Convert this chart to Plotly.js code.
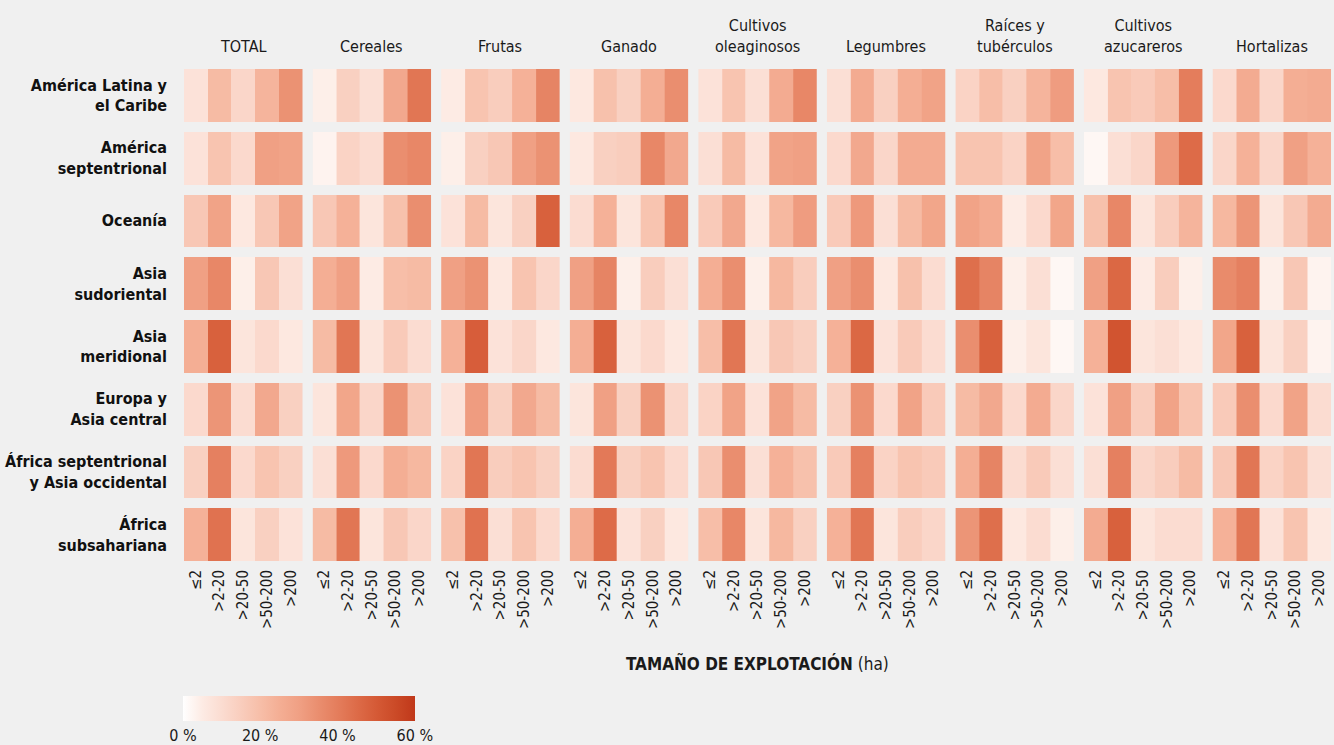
<!DOCTYPE html>
<html>
<head>
<meta charset="utf-8">
<script src="https://cdn.plot.ly/plotly-3.0.1.min.js"></script>
<style>
html,body{margin:0;padding:0;background:#f0f0f0;}
#chart{width:1334px;height:745px;}
</style>
</head>
<body>
<div id="chart"></div>
<script>
// ---- DATA ----
const regions = [
  "América Latina y<br>el Caribe",
  "América<br>septentrional",
  "Oceanía",
  "Asia<br>sudoriental",
  "Asia<br>meridional",
  "Europa y<br>Asia central",
  "África septentrional<br>y Asia occidental",
  "África<br>subsahariana"
];
const sizes = ["≤2", ">2-20", ">20-50", ">50-200", ">200"];
const crops = ["TOTAL", "Cereales", "Frutas", "Ganado", "Cultivos<br>oleaginosos",
  "Legumbres", "Raíces y<br>tubérculos", "Cultivos<br>azucareros", "Hortalizas"];

// share (%) of production by farm size, rows = regions, cols = sizes
const total = [
  [8, 21, 12, 23, 34],
  [8, 18, 11, 30, 29],
  [17, 29, 6, 17, 29],
  [30, 37, 4, 17, 9],
  [25, 48, 7, 11, 6],
  [11, 33, 10, 27, 14],
  [14, 39, 11, 18, 14],
  [24, 43, 7, 14, 8]
];
const cereales = [
  [4, 14, 9, 27, 42],
  [3, 13, 10, 35, 37],
  [17, 24, 7, 19, 35],
  [25, 30, 5, 20, 21],
  [21, 42, 7, 16, 10],
  [7, 28, 12, 34, 17],
  [9, 32, 11, 25, 22],
  [21, 42, 7, 17, 12]
];
const frutas = [
  [5, 18, 15, 24, 38],
  [4, 14, 17, 30, 34],
  [8, 21, 7, 14, 48],
  [30, 34, 6, 18, 12],
  [24, 49, 8, 12, 6],
  [8, 31, 14, 27, 21],
  [13, 42, 15, 18, 14],
  [19, 43, 9, 18, 11]
];
const ganado = [
  [6, 19, 14, 25, 35],
  [6, 14, 15, 37, 27],
  [10, 24, 7, 18, 37],
  [30, 38, 4, 15, 9],
  [25, 48, 7, 11, 6],
  [7, 30, 14, 34, 12],
  [10, 41, 14, 18, 11],
  [25, 45, 8, 14, 6]
];
const oleaginosos = [
  [8, 18, 9, 26, 37],
  [9, 21, 8, 29, 30],
  [16, 27, 6, 22, 31],
  [25, 35, 4, 22, 15],
  [20, 42, 7, 17, 14],
  [13, 29, 8, 29, 21],
  [17, 35, 9, 24, 19],
  [20, 37, 7, 22, 14]
];
const legumbres = [
  [9, 26, 14, 25, 29],
  [11, 27, 12, 26, 26],
  [16, 32, 9, 21, 28],
  [30, 35, 6, 19, 10],
  [24, 46, 8, 16, 10],
  [14, 34, 11, 29, 16],
  [16, 39, 13, 18, 16],
  [24, 42, 7, 15, 12]
];
const raices = [
  [13, 20, 14, 23, 31],
  [18, 18, 13, 29, 20],
  [29, 26, 5, 11, 28],
  [44, 38, 4, 9, 2],
  [35, 48, 4, 7, 2],
  [21, 27, 11, 26, 12],
  [25, 38, 10, 16, 9],
  [33, 44, 6, 10, 4]
];
const azucareros = [
  [6, 18, 16, 20, 40],
  [2, 9, 12, 32, 45],
  [19, 37, 7, 15, 23],
  [30, 46, 5, 15, 4],
  [24, 52, 7, 9, 6],
  [8, 30, 15, 29, 18],
  [9, 39, 12, 15, 21],
  [26, 48, 7, 10, 10]
];
const hortalizas = [
  [11, 26, 12, 25, 26],
  [12, 24, 12, 30, 24],
  [22, 33, 7, 17, 26],
  [36, 39, 4, 17, 3],
  [28, 48, 7, 14, 3],
  [16, 35, 11, 29, 10],
  [17, 42, 13, 18, 9],
  [24, 42, 8, 18, 6]
];
const colorTicks = [0, 20, 40, 60];

// ---- CHART ----
const series = [total, cereales, frutas, ganado, oleaginosos, legumbres, raices, azucareros, hortalizas];
const FONT = "'Liberation Sans Narrow', 'DejaVu Sans Condensed', 'Liberation Sans', sans-serif";

const W = 1334, H = 745;
const margin = {l: 184, r: 3, t: 64, b: 179};
const plotW = W - margin.l - margin.r;
const plotH = H - margin.t - margin.b;
const panelW = 118.5, panelGap = (plotW - 9 * panelW) / 8;

const traces = [];
const layout = {
  width: W, height: H,
  margin: margin,
  paper_bgcolor: '#f0f0f0',
  plot_bgcolor: '#f0f0f0',
  showlegend: false,
  font: {family: FONT, color: '#1a1a1a', size: 15},
  annotations: [],
  coloraxis: {
    cmin: 0, cmax: 60,
    colorscale: [
      [0.0, '#ffffff'],
      [0.0833, '#fdebe4'],
      [0.1667, '#fbdcd1'],
      [0.25, '#f9cdbd'],
      [0.3333, '#f7bea8'],
      [0.4167, '#f4ae94'],
      [0.5, '#f0a084'],
      [0.5833, '#ea8e6f'],
      [0.6667, '#e47d5c'],
      [0.75, '#dd6b48'],
      [0.8333, '#d55a36'],
      [0.9167, '#cb4a27'],
      [1.0, '#c0381a']
    ],
    colorbar: {
      orientation: 'h',
      lenmode: 'pixels', len: 232,
      thickness: 25,
      x: -0.001, xanchor: 'left',
      y: 0, yanchor: 'top',
      xpad: 0, ypad: 0,
      outlinewidth: 0,
      ticks: '',
      tickvals: colorTicks,
      ticktext: colorTicks.map(v => v + ' %'),
      tickfont: {family: FONT, size: 16, color: '#1a1a1a'}
    }
  },
  yaxis: {
    type: 'category',
    autorange: 'reversed',
    showgrid: false, zeroline: false, showline: false,
    ticks: '',
    ticklabelstandoff: 16,
    tickfont: {family: FONT, size: 16, color: '#111', weight: 'bold'},
    fixedrange: true
  }
};
// colorbar y in paper coords: top of bar at pixel 696
layout.coloraxis.colorbar.y = (margin.t + plotH - 696) / plotH;

series.forEach((z, i) => {
  const ax = i === 0 ? '' : String(i + 1);
  const x0 = (i * (panelW + panelGap)) / plotW;
  const x1 = (i * (panelW + panelGap) + panelW) / plotW;
  traces.push({
    type: 'heatmap',
    z: z,
    x: sizes,
    y: regions,
    xaxis: 'x' + ax,
    yaxis: 'y',
    coloraxis: 'coloraxis',
    xgap: 0,
    ygap: 10,
    hoverinfo: 'skip'
  });
  layout['xaxis' + ax] = {
    domain: [Math.max(0, x0), Math.min(1, x1)],
    anchor: 'y',
    type: 'category',
    showgrid: false, zeroline: false, showline: false,
    ticks: '',
    tickangle: -90,
    tickfont: {family: FONT, size: 15, color: '#1a1a1a'},
    fixedrange: true
  };
  layout.annotations.push({
    text: crops[i],
    xref: 'paper', yref: 'paper',
    x: (x0 + x1) / 2, y: 1,
    xanchor: 'center', yanchor: 'bottom',
    yshift: 6,
    showarrow: false,
    align: 'center',
    font: {family: FONT, size: 16, color: '#1a1a1a'}
  });
});

layout.annotations.push({
  text: '<b>TAMAÑO DE EXPLOTACIÓN</b> (ha)',
  xref: 'paper', yref: 'paper',
  x: (757 - margin.l) / plotW, y: (margin.t + plotH - 663) / plotH,
  xanchor: 'center', yanchor: 'middle',
  showarrow: false,
  font: {family: FONT, size: 17, color: '#1a1a1a'}
});

Plotly.newPlot('chart', traces, layout, {displayModeBar: false, staticPlot: true});
</script>
</body>
</html>
